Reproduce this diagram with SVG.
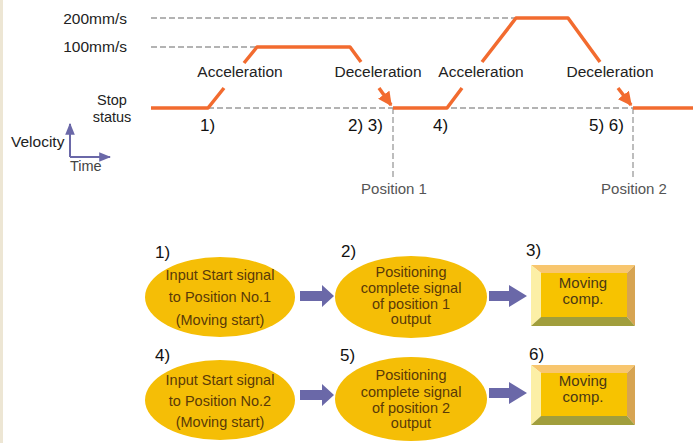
<svg xmlns="http://www.w3.org/2000/svg" width="693" height="443" viewBox="0 0 693 443">
<defs>
<style>
.t{font-family:"Liberation Sans",Arial,sans-serif;fill:#111}
.lbl{font-size:15.5px;fill:#222}
.pos{font-size:15px;fill:#555}
.step{font-size:17px;fill:#111}
.dash{stroke:#9a9a9a;stroke-width:1.3;stroke-dasharray:6 3;fill:none}
.vel{stroke:#F26B2F;stroke-width:3.5;fill:none;stroke-linejoin:round}
.ell{fill:#F5BE06}
.et{font-size:14.5px;fill:#5a3a08;text-anchor:middle}
.bt{font-size:15px;fill:#4a3814;text-anchor:middle}
.barrow{fill:#6A68A8}
</style>
<marker id="ah" viewBox="0 0 10 10" refX="9" refY="5" markerWidth="4" markerHeight="4" orient="auto" markerUnits="strokeWidth">
<path d="M0,0 L10,5 L0,10 Z" fill="#F26B2F"/>
</marker>
<marker id="ax" viewBox="0 0 10 10" refX="9" refY="5" markerWidth="6" markerHeight="6" orient="auto" markerUnits="strokeWidth">
<path d="M0,1 L10,5 L0,9 Z" fill="#6A68A8"/>
</marker>
</defs>
<rect width="693" height="443" fill="#ffffff"/>
<rect x="0" y="0" width="3" height="443" fill="#EDE6D4"/>

<g id="graph">
<line class="dash" x1="151" y1="18" x2="516" y2="18"/>
<line class="dash" x1="151" y1="47" x2="257" y2="47"/>
<line class="dash" x1="208" y1="108" x2="633" y2="108"/>
<line class="dash" x1="393" y1="108" x2="393" y2="178"/>
<line class="dash" x1="633" y1="108" x2="633" y2="178"/>
<text class="t lbl" x="127" y="24" text-anchor="end">200mm/s</text>
<text class="t lbl" x="127" y="52" text-anchor="end">100mm/s</text>
<text class="t lbl" x="112" y="105" text-anchor="middle" style="font-size:14.5px">Stop</text>
<text class="t lbl" x="112" y="122" text-anchor="middle" style="font-size:14.5px">status</text>
<path class="vel" d="M151,108 H208 L224,88"/>
<path class="vel" d="M244,63 L257,47 H350 L361,62"/>
<path class="vel" d="M379,88 L391,105" marker-end="url(#ah)"/>
<path class="vel" d="M393,108 H447 L462,88"/>
<path class="vel" d="M482,62 L516,18 H568 L600,62"/>
<path class="vel" d="M618,88 L631,105" marker-end="url(#ah)"/>
<path class="vel" d="M633,108 H693"/>
<text class="t lbl" x="240" y="77" text-anchor="middle">Acceleration</text>
<text class="t lbl" x="378" y="77" text-anchor="middle">Deceleration</text>
<text class="t lbl" x="481" y="77" text-anchor="middle">Acceleration</text>
<text class="t lbl" x="610" y="77" text-anchor="middle">Deceleration</text>
<text class="t step" x="200" y="131">1)</text>
<text class="t step" x="348" y="131">2) 3)</text>
<text class="t step" x="433" y="131">4)</text>
<text class="t step" x="589" y="131">5) 6)</text>
<text class="t pos" x="394" y="194" text-anchor="middle">Position 1</text>
<text class="t pos" x="634" y="194" text-anchor="middle">Position 2</text>
<path d="M70,157 V124" stroke="#6A68A8" stroke-width="2" fill="none" marker-end="url(#ax)"/>
<path d="M70,157 H110" stroke="#6A68A8" stroke-width="2" fill="none" marker-end="url(#ax)"/>
<text class="t lbl" x="11" y="147" style="font-size:15.5px">Velocity</text>
<text class="t lbl" x="70" y="171" style="font-size:14.5px;fill:#444">Time</text>
</g>

<g id="connectors">
<polygon class="barrow" points="300,291 322,291 322,285 334,296 322,307 322,301 300,301"/>
<polygon class="barrow" points="489,291 509,291 509,285 527,296 509,307 509,301 489,301"/>
<polygon class="barrow" points="300,390 322,390 322,384 334,395 322,406 322,400 300,400"/>
<polygon class="barrow" points="489,388 509,388 509,382 527,393 509,404 509,398 489,398"/>
</g>

<g id="n1">
<text class="t step" x="155" y="258">1)</text>
<ellipse class="ell" cx="220" cy="297" rx="75" ry="40"/>
<text class="t et" x="220" y="280">Input Start signal</text>
<text class="t et" x="220" y="302">to Position No.1</text>
<text class="t et" x="220" y="325">(Moving start)</text>
</g>
<g id="n2">
<text class="t step" x="341" y="257">2)</text>
<ellipse class="ell" cx="411" cy="297" rx="76" ry="41"/>
<text class="t et" x="411" y="277">Positioning</text>
<text class="t et" x="411" y="293">complete signal</text>
<text class="t et" x="411" y="309">of position 1</text>
<text class="t et" x="411" y="324">output</text>
</g>
<g id="n3">
<text class="t step" x="526" y="256">3)</text>
<polygon points="531,265 635,265 627,273 541,273" fill="#F8C66E"/>
<polygon points="531,265 541,273 541,317 531,326" fill="#FCEFA6"/>
<polygon points="635,265 635,326 627,317 627,273" fill="#D7A452"/>
<polygon points="531,326 541,317 627,317 635,326" fill="#A19E3C"/>
<rect x="541" y="273" width="86" height="44" fill="#F7C300"/>
<text class="t bt" x="583" y="288">Moving</text>
<text class="t bt" x="583" y="304">comp.</text>
</g>
<g id="n4">
<text class="t step" x="155" y="361">4)</text>
<ellipse class="ell" cx="220" cy="400" rx="75" ry="40"/>
<text class="t et" x="220" y="385">Input Start signal</text>
<text class="t et" x="220" y="406">to Position No.2</text>
<text class="t et" x="220" y="427">(Moving start)</text>
</g>
<g id="n5">
<text class="t step" x="340" y="361">5)</text>
<ellipse class="ell" cx="411" cy="399" rx="76" ry="42"/>
<text class="t et" x="411" y="380">Positioning</text>
<text class="t et" x="411" y="397">complete signal</text>
<text class="t et" x="411" y="413">of position 2</text>
<text class="t et" x="411" y="428">output</text>
</g>
<g id="n6">
<text class="t step" x="529" y="360">6)</text>
<polygon points="531,365 635,365 627,373 541,373" fill="#F8C66E"/>
<polygon points="531,365 541,373 541,416 531,425" fill="#FCEFA6"/>
<polygon points="635,365 635,425 627,416 627,373" fill="#D7A452"/>
<polygon points="531,425 541,416 627,416 635,425" fill="#A19E3C"/>
<rect x="541" y="373" width="86" height="43" fill="#F7C300"/>
<text class="t bt" x="583" y="386">Moving</text>
<text class="t bt" x="583" y="402">comp.</text>
</g>
</svg>
